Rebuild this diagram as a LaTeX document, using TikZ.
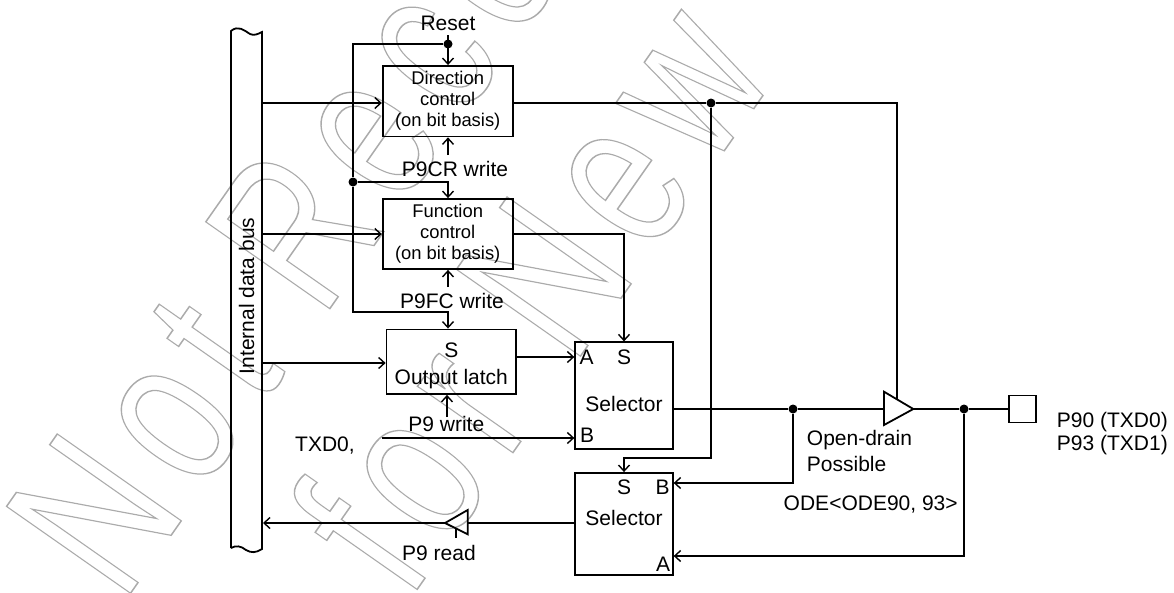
\documentclass[tikz,border=0pt]{standalone}
\usepackage{fontspec}
\setmainfont{Liberation Sans}
\usetikzlibrary{arrows.meta, positioning, calc}
\definecolor{markgray}{RGB}{170,170,170}
\newfontfamily\markfont[LetterSpace=12]{Liberation Sans}
\newcommand{\outlinetext}[1]{\special{pdf:code q 1 Tr 1.5 w 0.67 0.67 0.67 RG}#1\special{pdf:code Q}}
\tikzset{
  wire/.style={line width=1.7pt},
  feed/.style={wire, -{Straight Barb[length=6pt, width=11pt, line width=1.4pt]}},
  block/.style={rectangle, draw, line width=1.8pt, inner sep=0pt, font=\fontsize{18.4}{21}\selectfont, align=center},
  lbl/.style={inner sep=0pt, font=\fontsize{21}{24}\selectfont},
  joint/.style={circle, fill=black, inner sep=0pt, minimum size=9pt},
  watermark/.style={inner sep=0pt, anchor=base west, rotate=55, xscale=0.72, transform shape, font=\fontsize{220}{220}\markfont}
}
\begin{document}
\begin{tikzpicture}[x=1pt, y=-1pt]
  \useasboundingbox (0,0) rectangle (1174,592);
  \node[watermark] (markone) at (123,604) {\outlinetext{Not Reco}};
  \node[watermark] (marktwo) at (409,601) {\outlinetext{for New}};
  % data bus
  \draw[line width=1.8pt] (231,548) -- (231,31) .. controls (238,25) and (244,30) .. (250,34) .. controls (254,36) and (258,34) .. (262,32) -- (262,549) .. controls (256,553) and (251,553) .. (246,550) .. controls (241,546) and (236,545) .. (231,548);
  \coordinate (busdir) at (262,103);
  \coordinate (busfunc) at (262,234);
  \coordinate (buslatch) at (262,363);
  \coordinate (busread) at (263,523);
  \node[lbl, rotate=90] (busname) at (246.5,296) {Internal data bus};
  % blocks
  \node[block, minimum width=130pt, minimum height=70.5pt] (dirbox) at (447.7,101.2) {Direction\\control\\(on bit basis)};
  \node[block, minimum width=130pt, minimum height=70pt] (funcbox) at (447.7,234) {Function\\control\\(on bit basis)};
  \node[block, minimum width=129.5pt, minimum height=64.5pt] (latchbox) at (451.3,361.7) {};
  \node[block, minimum width=97.5pt, minimum height=107pt] (selone) at (624,395.8) {};
  \node[block, minimum width=97.5pt, minimum height=101.7pt] (seltwo) at (624,523.8) {};
  \node[lbl] (latchs) at (451.3,350) {S};
  \node[lbl] (latchname) at (451.3,379) {Output latch};
  \node[lbl] (sela) at (586.7,357.7) {A};
  \node[lbl] (sels) at (624,357.7) {S};
  \node[lbl] (selname) at (624,404) {Selector};
  \node[lbl] (selb) at (587,435.7) {B};
  \node[lbl] (twos) at (624,487) {S};
  \node[lbl] (twob) at (662.7,487) {B};
  \node[lbl] (twoname) at (624,518) {Selector};
  \node[lbl] (twoa) at (663,564) {A};
  % labels
  \node[lbl] (reset) at (448,23) {Reset};
  \node[lbl] (crwrite) at (455,169) {P9CR write};
  \node[lbl] (fcwrite) at (452,301) {P9FC write};
  \node[lbl] (pwrite) at (446.3,424) {P9 write};
  \node[lbl] (txd) at (325,446) {TXD0,};
  \node[lbl] (pread) at (439,553) {P9 read};
  \node[lbl, anchor=west] (opendrain) at (806.7,440) {Open-drain};
  \node[lbl, anchor=west] (possible) at (806.7,464) {Possible};
  \node[lbl] (ode) at (870.7,505) {ODE<ODE90, 93>};
  \node[lbl, anchor=west] (pninety) at (1056.7,421.7) {P90 (TXD0)};
  \node[lbl, anchor=west] (pninetythree) at (1056.7,445) {P93 (TXD1)};
  % pin and buffers
  \node[rectangle, draw, line width=1.8pt, minimum size=27pt, inner sep=0pt] (pin) at (1022.3,409) {};
  \draw[line width=1.8pt] (884,391.7) coordinate (outtop) -- (913.3,409) coordinate (outtip) -- (884,425) coordinate (outbot) -- cycle;
  \draw[line width=1.8pt] (467.7,510) coordinate (readtop) -- (445,523) coordinate (readtip) -- (467.7,534.3) coordinate (readbot) -- cycle;
  % joints
  \node[joint] (resetjoint) at (448,44) {};
  \node[joint] (leftjoint) at (353,182) {};
  \node[joint] (dirjoint) at (711,103) {};
  \node[joint] (seljoint) at (793,409) {};
  \node[joint] (outjoint) at (964,409) {};
  % connectors
  \draw[feed] (448,35) -- (dirbox.north -| resetjoint);
  \draw[feed] (resetjoint) -| (leftjoint) |- (448,312) -- (latchbox.north -| 448,0);
  \draw[feed] (leftjoint) -| (funcbox.north -| 448,0);
  \draw[feed] (448,155) -- (dirbox.south -| 448,0);
  \draw[feed] (448,287) -- (funcbox.south -| 448,0);
  \draw[feed] (447,417) -- (latchbox.south -| 447,0);
  \draw[feed] (busdir) -- (dirbox.west |- busdir);
  \draw[feed] (busfunc) -- (funcbox.west);
  \draw[feed] (buslatch) -- (latchbox.west |- buslatch);
  \draw[wire] (dirbox.east |- busdir) -- (dirjoint) -- (897,103) -- (897,399);
  \draw[feed] (dirjoint) |- (624,458) -- (seltwo.north);
  \draw[feed] (funcbox.east) -| (selone.north);
  \draw[feed] (latchbox.east |- 0,357) -- (selone.west |- 0,357);
  \draw[feed] (382,438) -- (selone.west |- 0,438);
  \draw[wire] (selone.east |- seljoint) -- (seljoint) -- (outtop |- seljoint);
  \draw[feed] (seljoint) |- (seltwo.east |- 0,483);
  \draw[feed] (outjoint) |- (seltwo.east |- 0,556);
  \draw[wire] (outtip) -- (outjoint) -- (pin.west);
  \draw[wire] (seltwo.west |- readtip) -- (readtop |- readtip);
  \draw[feed] (readtip) -- (busread);
  \draw[wire] (456,529) -- (456,538);
\end{tikzpicture}
\end{document}
